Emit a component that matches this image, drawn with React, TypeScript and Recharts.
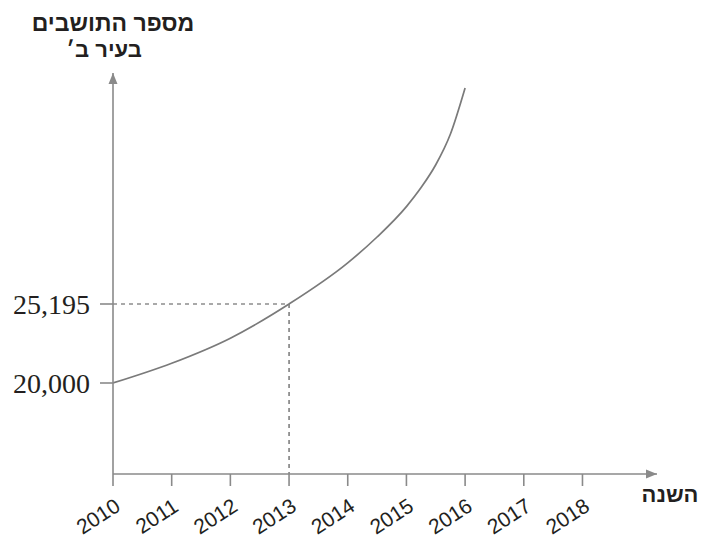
import React from 'react';
import { LineChart, Line, XAxis, YAxis, ReferenceLine, ReferenceDot } from 'recharts';

// years on the axis and the population curve
const years = [2010, 2011, 2012, 2013, 2014, 2015, 2016, 2017, 2018];
const curveYears = [2010, 2011, 2012, 2013, 2014, 2014.5, 2015, 2015.25, 2015.5, 2015.75, 2016];
const population = [20000, 21300, 22950, 25195, 27900, 29600, 31600, 32850, 34350, 36370, 39400];
const yTicks = [20000, 25195];
const yTickLabels = ['20,000', '25,195'];
const markYear = 2013;
const markValue = 25195;

const X_MAX = 2019.27;
const Y_MIN = 14016;
const Y_MAX = 40385;

const AXIS = '#8a8a8a';
const TEXT = '#231f20';

const data = curveYears.map((year, i) => ({ year, value: population[i] }));

function XTick({ x, y, payload }: any) {
  const cx = x - 15;
  const cy = y + 28;
  return (
    <text
      x={cx}
      y={cy}
      textAnchor="middle"
      dominantBaseline="central"
      transform={`rotate(-33, ${cx}, ${cy})`}
      fontFamily="'Liberation Sans', Arial, sans-serif"
      fontSize={21}
      fill={TEXT}
    >
      {payload.value}
    </text>
  );
}

function YTick({ x, y, payload }: any) {
  const idx = yTicks.indexOf(payload.value);
  return (
    <text
      x={x - 8}
      y={y + 10}
      textAnchor="end"
      fontFamily="'Liberation Serif', 'Times New Roman', serif"
      fontSize={28}
      fill={TEXT}
    >
      {yTickLabels[idx]}
    </text>
  );
}

const arrowRight = ({ cx, cy }: any) => (
  <path d={`M${cx},${cy} L${cx - 11},${cy - 4.5} L${cx - 11},${cy + 4.5} Z`} fill={AXIS} />
);

const arrowUp = ({ cx, cy }: any) => (
  <path d={`M${cx},${cy} L${cx - 4.5},${cy + 11} L${cx + 4.5},${cy + 11} Z`} fill={AXIS} />
);

export default function App() {
  return (
    <div style={{ position: 'absolute', left: 0, top: 0, width: 702, height: 541, background: '#fff' }}>
      <LineChart width={702} height={541} data={data} margin={{ top: 73, right: 45, left: 0, bottom: 0 }}>
        <XAxis
          type="number"
          dataKey="year"
          domain={[2010, X_MAX]}
          allowDataOverflow
          ticks={years}
          interval={0}
          height={67}
          tickSize={12}
          axisLine={{ stroke: AXIS, strokeWidth: 1.6 }}
          tickLine={{ stroke: AXIS, strokeWidth: 1.6 }}
          tick={<XTick />}
        />
        <YAxis
          type="number"
          domain={[Y_MIN, Y_MAX]}
          allowDataOverflow
          ticks={yTicks}
          interval={0}
          width={113}
          tickSize={13}
          axisLine={{ stroke: AXIS, strokeWidth: 1.6 }}
          tickLine={{ stroke: AXIS, strokeWidth: 1.6 }}
          tick={<YTick />}
        />
        <ReferenceLine
          segment={[{ x: 2010, y: markValue }, { x: markYear, y: markValue }]}
          stroke="#555"
          strokeWidth={1.2}
          strokeDasharray="4 4"
          ifOverflow="visible"
        />
        <ReferenceLine
          segment={[{ x: markYear, y: markValue }, { x: markYear, y: Y_MIN }]}
          stroke="#555"
          strokeWidth={1.2}
          strokeDasharray="4 4"
          ifOverflow="visible"
        />
        <ReferenceDot x={X_MAX} y={Y_MIN} r={0} ifOverflow="visible" shape={arrowRight} />
        <ReferenceDot x={2010} y={Y_MAX} r={0} ifOverflow="visible" shape={arrowUp} />
        <Line
          type="monotoneX"
          dataKey="value"
          stroke="#7a7a7a"
          strokeWidth={1.7}
          dot={false}
          isAnimationActive={false}
        />
      </LineChart>
      <svg
        width={702}
        height={541}
        style={{ position: 'absolute', left: 0, top: 0, pointerEvents: 'none' }}
      >
        <g fontFamily="'Liberation Sans', Arial, 'DejaVu Sans', sans-serif" fontWeight="bold" fill={TEXT}>
          <text x={113} y={31} textAnchor="middle" fontSize={23}>
            מספר התושבים
          </text>
          <text x={104} y={57} textAnchor="middle" fontSize={22}>
            בעיר ב׳
          </text>
          <text x={670} y={502} textAnchor="middle" fontSize={22}>
            השנה
          </text>
        </g>
      </svg>
    </div>
  );
}
